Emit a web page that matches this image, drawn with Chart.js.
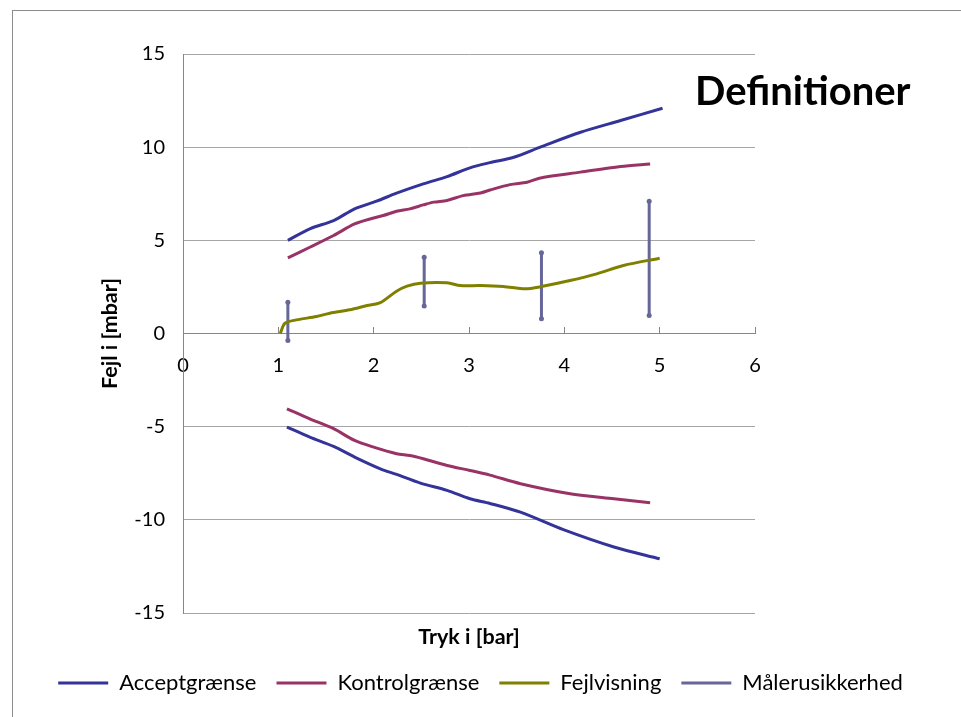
<!DOCTYPE html>
<html>
<head>
<meta charset="utf-8">
<script src="https://cdn.jsdelivr.net/npm/chart.js@4.4.1/dist/chart.umd.min.js"></script>
<style>
  html, body { margin: 0; padding: 0; background: #fff; overflow: hidden; }
  #frame { position: absolute; left: 12px; top: 10px; width: 1200px; height: 1000px;
           border-left: 1px solid #8c8c8c; border-top: 1px solid #8c8c8c; }
  #wrap { position: absolute; left: 0; top: 0; width: 961px; height: 717px; }
</style>
</head>
<body>
<div id="frame"></div>
<div id="wrap"><canvas id="chart" width="961" height="717"></canvas></div>
<script>
// Tick labels for the axes
const xTicks = [0, 1, 2, 3, 4, 5, 6];
const yTicks = [-15, -10, -5, 0, 5, 10, 15];

// Acceptgrænse (upper and lower branch) – pressure [bar] / error [mbar]
const acceptUpperX = [1.10, 1.33, 1.58, 1.80, 2.03, 2.24, 2.52, 2.77, 3.01, 3.22, 3.47, 3.76, 4.17, 4.59, 5.03];
const acceptUpperY = [5.00, 5.62, 6.06, 6.69, 7.10, 7.53, 8.03, 8.42, 8.89, 9.17, 9.46, 10.03, 10.80, 11.43, 12.09];
const acceptLowerX = [1.09, 1.33, 1.58, 1.80, 2.07, 2.24, 2.49, 2.77, 3.01, 3.22, 3.54, 3.99, 4.52, 5.00];
const acceptLowerY = [-5.02, -5.56, -6.06, -6.63, -7.26, -7.56, -8.03, -8.42, -8.87, -9.12, -9.59, -10.53, -11.46, -12.09];

// Kontrolgrænse (upper and lower branch)
const controlUpperX = [1.10, 1.33, 1.58, 1.80, 2.00, 2.10, 2.24, 2.38, 2.52, 2.63, 2.77, 2.94, 3.12, 3.22, 3.43, 3.61, 3.75, 4.17, 4.59, 4.90];
const controlUpperY = [4.06, 4.63, 5.26, 5.88, 6.20, 6.33, 6.56, 6.69, 6.90, 7.05, 7.14, 7.40, 7.54, 7.70, 7.99, 8.12, 8.35, 8.66, 8.96, 9.10];
const controlLowerX = [1.09, 1.33, 1.58, 1.80, 2.00, 2.24, 2.38, 2.52, 2.77, 3.01, 3.22, 3.54, 4.03, 4.52, 4.90];
const controlLowerY = [-4.04, -4.58, -5.11, -5.74, -6.10, -6.45, -6.55, -6.72, -7.08, -7.35, -7.60, -8.06, -8.57, -8.87, -9.08];

// Fejlvisning
const errorX = [1.02, 1.07, 1.19, 1.40, 1.54, 1.75, 1.93, 2.07, 2.24, 2.35, 2.49, 2.77, 2.91, 3.12, 3.36, 3.59, 3.76, 4.06, 4.34, 4.62, 5.00];
const errorY = [0.00, 0.55, 0.73, 0.91, 1.09, 1.27, 1.50, 1.66, 2.27, 2.54, 2.70, 2.72, 2.57, 2.57, 2.52, 2.40, 2.52, 2.84, 3.20, 3.65, 4.04];

// Målerusikkerhed – vertical bars from low to high at each test pressure
const uncertX = [1.10, 2.53, 3.76, 4.89];
const uncertLow = [-0.38, 1.47, 0.79, 0.97];
const uncertHigh = [1.68, 4.09, 4.33, 7.10];

function pairs(xs, ys) { return xs.map((x, i) => ({ x: x, y: ys[i] })); }
// two branches in one series, separated by a gap
function twoBranches(ux, uy, lx, ly) {
  return pairs(ux, uy).concat([{ x: lx[0], y: null }], pairs(lx, ly));
}
function bars(xs, lo, hi) {
  const out = [];
  xs.forEach((x, i) => { out.push({ x: x, y: hi[i] }, { x: x, y: lo[i] }, { x: x, y: null }); });
  return out;
}

Chart.defaults.font.family = 'Lato, "Open Sans", sans-serif';
Chart.defaults.color = '#000';

// heading in the upper right corner of the plot
const headingPlugin = {
  id: 'cornerHeading',
  afterDraw(chart) {
    const { ctx, chartArea } = chart;
    ctx.save();
    ctx.font = 'bold 40px Lato, sans-serif';
    ctx.fillStyle = '#000';
    ctx.textAlign = 'left';
    ctx.textBaseline = 'alphabetic';
    ctx.fillText('Definitioner', chartArea.right - 60, chartArea.top + 51);
    ctx.restore();
  }
};

new Chart(document.getElementById('chart'), {
  type: 'line',
  data: {
    datasets: [
      { label: 'Acceptgrænse', data: twoBranches(acceptUpperX, acceptUpperY, acceptLowerX, acceptLowerY),
        borderColor: '#333399', backgroundColor: '#333399', borderWidth: 3, pointRadius: 0, tension: 0.3 },
      { label: 'Kontrolgrænse', data: twoBranches(controlUpperX, controlUpperY, controlLowerX, controlLowerY),
        borderColor: '#993366', backgroundColor: '#993366', borderWidth: 3, pointRadius: 0, tension: 0.3 },
      { label: 'Fejlvisning', data: pairs(errorX, errorY),
        borderColor: '#808000', backgroundColor: '#808000', borderWidth: 3, pointRadius: 0, tension: 0.3 },
      { label: 'Målerusikkerhed', data: bars(uncertX, uncertLow, uncertHigh),
        borderColor: '#666699', backgroundColor: '#666699', borderWidth: 3, pointRadius: 2.5,
        pointBorderWidth: 0, pointBackgroundColor: '#666699', tension: 0 }
    ]
  },
  options: {
    responsive: false,
    animation: false,
    events: [],
    spanGaps: false,
    layout: { padding: { left: 0, right: 0, top: 54, bottom: 13 } },
    plugins: {
      tooltip: { enabled: false },
      legend: {
        position: 'bottom',
        labels: {
          usePointStyle: true, pointStyle: 'line', pointStyleWidth: 50, boxHeight: 22,
          padding: 20, font: { size: 22 }, color: '#000',
          generateLabels: chart => Chart.defaults.plugins.legend.labels.generateLabels(chart).map(item =>
            Object.assign(item, { lineWidth: 3, strokeStyle: chart.data.datasets[item.datasetIndex].borderColor }))
        }
      }
    },
    scales: {
      x: {
        type: 'linear', position: { y: 0 }, min: 0, max: 6,
        afterBuildTicks: s => { s.ticks = xTicks.map(v => ({ value: v })); },
        grid: { drawOnChartArea: false, drawTicks: true, tickLength: -7, color: '#868686', lineWidth: 1 },
        border: { display: true, color: '#868686', width: 1 },
        ticks: { padding: 27, font: { size: 20 }, color: '#000', maxRotation: 0 }
      },
      xt: {
        type: 'linear', position: 'bottom', display: true,
        grid: { display: false, drawTicks: false }, border: { display: false },
        ticks: { display: false },
        title: { display: true, text: 'Tryk i [bar]', font: { size: 21.5, weight: 'bold', lineHeight: '24px' }, color: '#000', padding: { top: 12, bottom: 3 } }
      },
      y: {
        type: 'linear', position: 'left', min: -15, max: 15,
        afterBuildTicks: s => { s.ticks = yTicks.map(v => ({ value: v })); },
        afterFit: s => { s.width = 183; },
        grid: { color: '#a6a6a6', lineWidth: 1, drawTicks: false },
        border: { display: true, color: '#868686', width: 1 },
        ticks: { padding: 18, font: { size: 20 }, color: '#000' },
        title: { display: true, text: 'Fejl i [mbar]', font: { size: 21.5, weight: 'bold', lineHeight: '24px' }, color: '#000', padding: { top: 98, bottom: 0 } }
      },
      yr: {
        type: 'linear', position: 'right', display: true,
        afterFit: s => { s.width = 206; },
        grid: { display: false, drawTicks: false }, border: { display: false },
        ticks: { display: false }
      }
    }
  },
  plugins: [headingPlugin]
});
</script>
</body>
</html>
